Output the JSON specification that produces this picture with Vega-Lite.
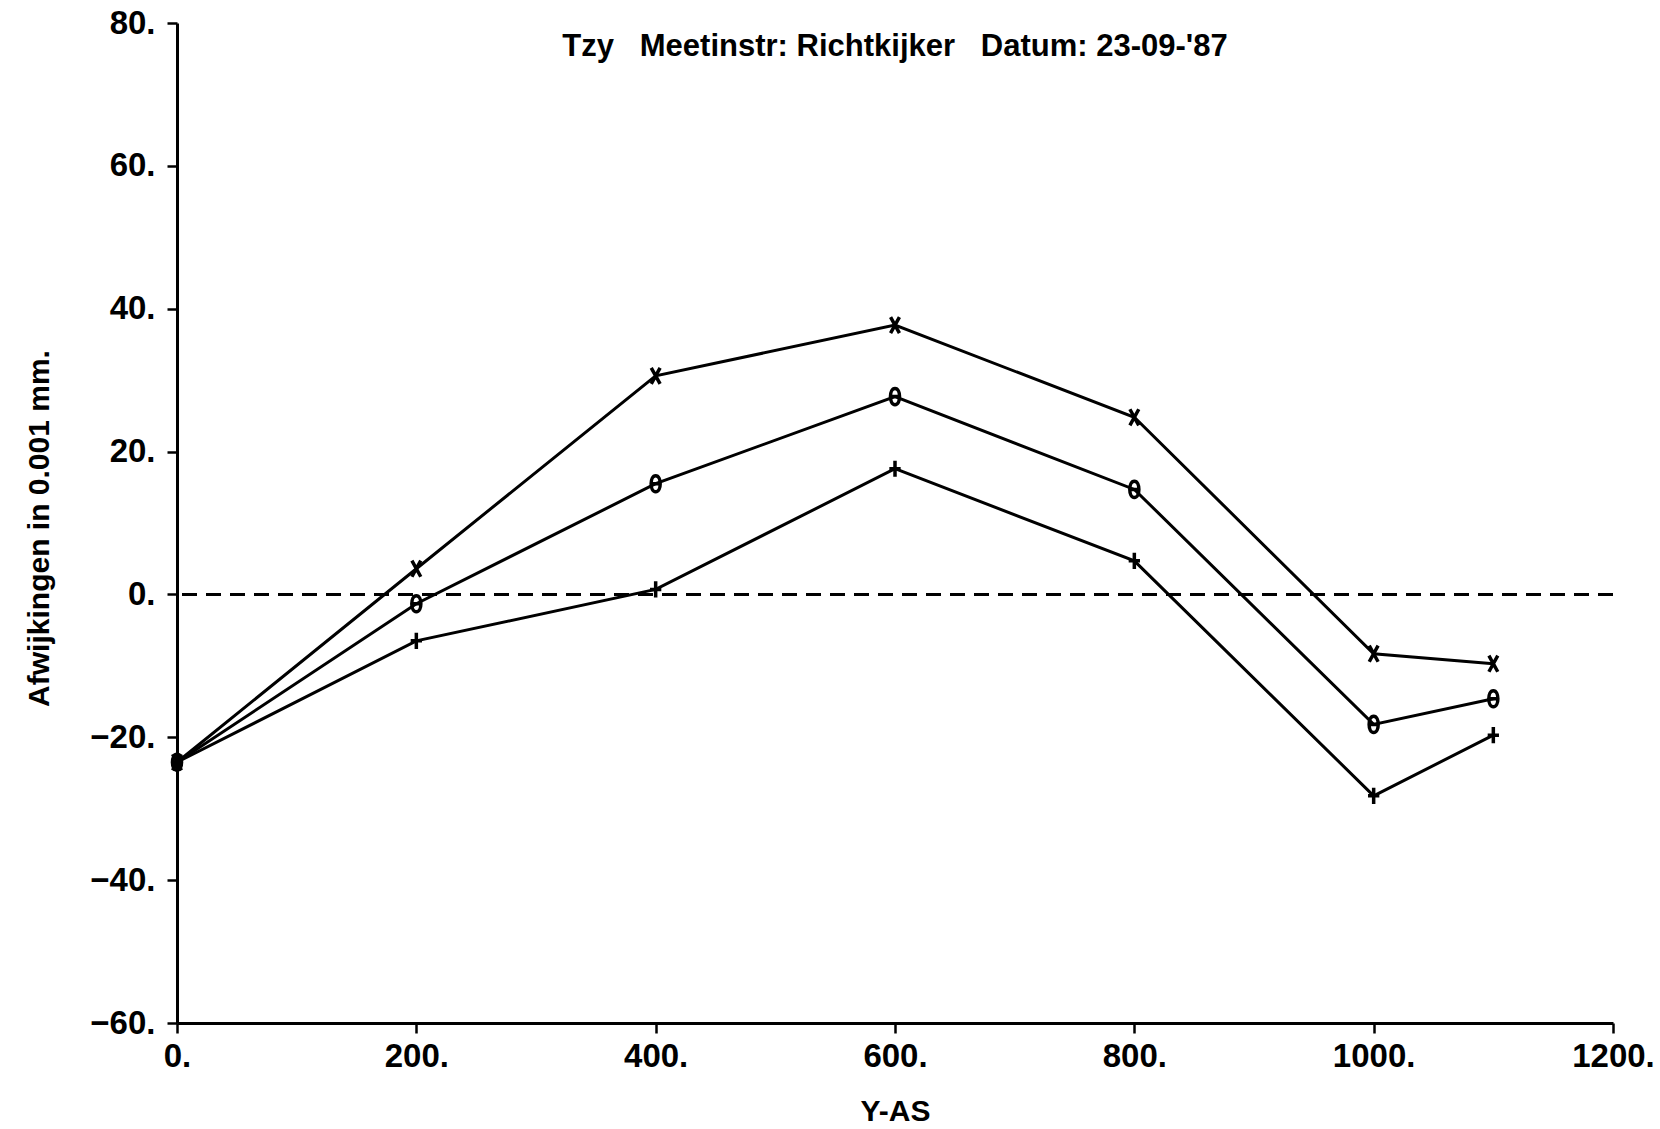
{
  "$schema": "https://vega.github.io/schema/vega-lite/v6.json",
  "autosize": {"type": "none"},
  "width": 1436,
  "height": 1000,
  "padding": {"left": 177, "top": 23, "right": 47, "bottom": 106},
  "background": "white",
  "config": {
    "view": {"stroke": null},
    "font": "Liberation Sans, sans-serif"
  },
  "title": {
    "text": "Tzy\u00a0\u00a0\u00a0Meetinstr:\u00a0Richtkijker\u00a0\u00a0\u00a0Datum:\u00a023-09-'87",
    "frame": "group",
    "anchor": "middle",
    "baseline": "alphabetic",
    "offset": -80,
    "fontSize": 31,
    "fontWeight": "bold",
    "font": "Liberation Sans, sans-serif",
    "color": "black"
  },
  "data": {
    "values": [
      {"x": 0, "y": -23.5, "s": "x"},
      {"x": 200, "y": 3.6, "s": "x"},
      {"x": 400, "y": 30.6, "s": "x"},
      {"x": 600, "y": 37.7, "s": "x"},
      {"x": 800, "y": 24.8, "s": "x"},
      {"x": 1000, "y": -8.3, "s": "x"},
      {"x": 1100, "y": -9.7, "s": "x"},
      {"x": 0, "y": -23.5, "s": "o"},
      {"x": 200, "y": -1.3, "s": "o"},
      {"x": 400, "y": 15.5, "s": "o"},
      {"x": 600, "y": 27.7, "s": "o"},
      {"x": 800, "y": 14.7, "s": "o"},
      {"x": 1000, "y": -18.2, "s": "o"},
      {"x": 1100, "y": -14.6, "s": "o"},
      {"x": 0, "y": -23.5, "s": "+"},
      {"x": 200, "y": -6.5, "s": "+"},
      {"x": 400, "y": 0.7, "s": "+"},
      {"x": 600, "y": 17.6, "s": "+"},
      {"x": 800, "y": 4.7, "s": "+"},
      {"x": 1000, "y": -28.2, "s": "+"},
      {"x": 1100, "y": -19.7, "s": "+"}
    ]
  },
  "encoding": {
    "x": {
      "field": "x", "type": "quantitative",
      "scale": {"domain": [0, 1200], "nice": false, "zero": false},
      "axis": {
        "values": [0, 200, 400, 600, 800, 1000, 1200],
        "labelExpr": "format(datum.value, 'd') + '.'",
        "grid": false,
        "domainColor": "black", "domainWidth": 3,
        "tickColor": "black", "tickWidth": 2.5, "tickSize": 10,
        "labelFontSize": 33, "labelFontWeight": "bold", "labelColor": "black",
        "labelPadding": 7, "labelFlush": false, "labelOverlap": false,
        "title": "Y-AS", "titleFontSize": 30, "titleFontWeight": "bold", "titleColor": "black",
        "titleX": 718, "titleY": 88, "titleBaseline": "middle", "titleAlign": "center"
      }
    },
    "y": {
      "field": "y", "type": "quantitative",
      "scale": {"domain": [-60, 80], "nice": false, "zero": false},
      "axis": {
        "values": [-60, -40, -20, 0, 20, 40, 60, 80],
        "labelExpr": "format(datum.value, 'd') + '.'",
        "grid": false,
        "domainColor": "black", "domainWidth": 3,
        "tickColor": "black", "tickWidth": 2.5, "tickSize": 10,
        "labelFontSize": 33, "labelFontWeight": "bold", "labelColor": "black",
        "labelPadding": 12, "labelFlush": false, "labelOverlap": false,
        "title": "Afwijkingen in 0.001 mm.", "titleFontSize": 30, "titleFontWeight": "bold", "titleColor": "black",
        "titleAngle": -90, "titleX": -138, "titleY": 505, "titleBaseline": "middle", "titleAlign": "center"
      }
    }
  },
  "layer": [
    {
      "mark": {"type": "rule", "color": "black", "strokeWidth": 3, "strokeDash": [15, 9]},
      "encoding": {"y": {"datum": 0}, "x": null}
    },
    {
      "mark": {"type": "line", "color": "black", "strokeWidth": 3},
      "encoding": {"detail": {"field": "s"}}
    },
    {
      "mark": {"type": "point", "filled": false, "color": "black", "strokeWidth": 3.5, "size": 260, "opacity": 1},
      "encoding": {
        "shape": {
          "field": "s", "type": "nominal",
          "scale": {
            "domain": ["x", "o", "+"],
            "range": [
              "M-0.55,-1L0.55,1M0.55,-1L-0.55,1",
              "M0,-1C0.75,-1 0.75,1 0,1C-0.75,1 -0.75,-1 0,-1ZM-0.5,0L0.5,0",
              "M-0.7,0L0.7,0M0,-1L0,1"
            ]
          },
          "legend": null
        }
      }
    }
  ]
}
